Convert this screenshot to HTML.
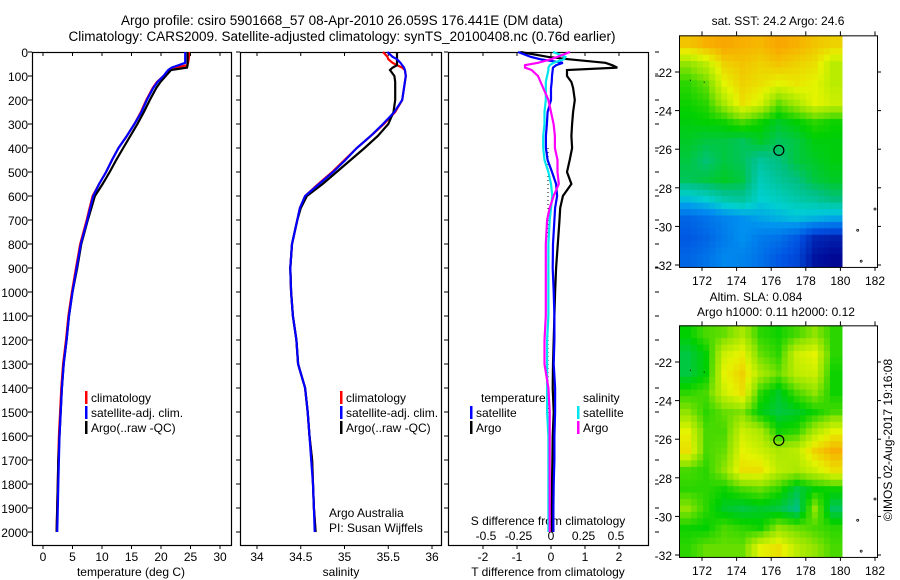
<!DOCTYPE html>
<html><head><meta charset="utf-8"><style>
html,body{margin:0;padding:0;background:#fff;}
svg{display:block;font-family:"Liberation Sans",Arial,sans-serif;}
</style></head><body>
<svg id="fig" width="900" height="580" viewBox="0 0 900 580">
<g id="titles" font-size="13.5" text-anchor="middle">
<text x="342" y="25">Argo profile: csiro 5901668_57 08-Apr-2010 26.059S 176.441E (DM data)</text>
<text x="342" y="41">Climatology: CARS2009. Satellite-adjusted climatology: synTS_20100408.nc (0.76d earlier)</text>
<text x="778" y="25" font-size="12">sat. SST: 24.2  Argo: 24.6</text>
<text x="756" y="301" font-size="12">Altim. SLA: 0.084</text>
<text x="776" y="316" font-size="12">Argo h1000: 0.11 h2000: 0.12</text>
<text transform="translate(892,440) rotate(-90)" font-size="12">©IMOS 02-Aug-2017 19:16:08</text>
</g>
<g id="plots"></g>
</svg>
<script>
// ---------- profile data ----------
const depths = [0,20,30,45,55,65,75,100,125,150,200,250,300,350,400,450,500,550,600,650,700,800,900,1000,1100,1200,1300,1400,1500,1600,1700,1800,1900,2000];
const tempClim = [24.75,24.75,24.7,24.6,24.4,22.6,21.5,20.4,19.3,18.6,17.5,16.6,15.5,14.2,12.8,11.7,10.7,9.5,8.4,7.9,7.4,6.3,5.6,4.9,4.3,3.9,3.4,3.1,2.9,2.7,2.6,2.5,2.4,2.3];
const tempSat = [24.1,24.1,24.1,24.1,23.0,21.8,21.2,20.4,19.4,18.7,17.6,16.7,15.5,14.2,12.8,11.7,10.7,9.5,8.5,8.0,7.5,6.4,5.7,5.0,4.4,4.0,3.5,3.2,3.0,2.8,2.7,2.6,2.5,2.4];
const tempArgo = [24.5,24.5,24.5,24.5,24.5,24.4,21.7,20.8,19.9,19.2,18.1,17.1,16.0,14.8,13.6,12.4,11.3,10.1,8.8,8.2,7.6,6.5,5.8,5.0,4.4,4.0,3.5,3.2,3.0,2.8,2.6,2.5,2.4,2.3];
const salClim = [35.44,35.49,35.5,35.55,35.6,35.66,35.69,35.7,35.69,35.68,35.66,35.58,35.45,35.3,35.14,35.0,34.86,34.7,34.55,34.49,34.46,34.4,34.38,34.39,34.41,34.45,34.47,34.55,34.58,34.6,34.63,34.64,34.65,34.67];
const salSat = [35.49,35.55,35.6,35.64,35.66,35.68,35.69,35.7,35.69,35.68,35.66,35.57,35.44,35.3,35.14,35.01,34.87,34.71,34.55,34.49,34.46,34.4,34.38,34.39,34.41,34.45,34.47,34.55,34.58,34.6,34.62,34.64,34.65,34.66];
const salArgo = [35.6,35.6,35.6,35.6,35.6,35.55,35.52,35.57,35.58,35.58,35.58,35.56,35.5,35.38,35.23,35.07,34.91,34.75,34.57,34.5,34.46,34.4,34.38,34.39,34.41,34.45,34.47,34.55,34.58,34.6,34.63,34.64,34.65,34.67];
const tDiffSat = [-0.97,-0.6,-0.32,0.35,0.15,0.06,0.05,0.03,0.02,0.0,0.0,-0.1,-0.12,-0.15,-0.15,-0.1,0.03,0.15,0.18,0.12,0.1,0.06,0.05,0.08,0.1,0.1,0.08,0.12,0.12,0.1,0.1,0.08,0.07,0.07];
const tDiffArgo = [-0.9,-0.1,0.5,1.6,1.8,1.95,0.47,0.47,0.6,0.65,0.7,0.65,0.62,0.6,0.62,0.55,0.47,0.6,0.35,0.27,0.25,0.2,0.15,0.12,0.1,0.08,0.06,0.05,0.08,0.05,0.04,0.03,0.02,0.02];
const sDiffSat = [0.015,0.11,0.1,0.02,-0.01,-0.02,-0.02,-0.03,-0.04,-0.04,-0.04,-0.05,-0.05,-0.06,-0.06,-0.05,-0.02,0.0,0.01,0.0,-0.01,-0.02,-0.02,-0.02,-0.02,-0.03,-0.03,-0.03,-0.03,-0.02,-0.02,-0.02,-0.02,-0.02];
const sDiffArgo = [0.146,0.05,0.0,-0.1,-0.2,-0.2,-0.15,-0.1,-0.08,-0.06,-0.02,0.0,0.02,0.03,0.03,0.05,0.05,0.06,0.02,-0.01,-0.03,-0.04,-0.04,-0.04,-0.04,-0.05,-0.05,-0.02,-0.01,-0.01,-0.01,-0.01,-0.01,-0.01];
const depthTicks = [0,100,200,300,400,500,600,700,800,900,1000,1100,1200,1300,1400,1500,1600,1700,1800,1900,2000];
const tempTicks = [0,5,10,15,20,25,30];
const salTicks = [34,34.5,35,35.5,36];
const tDiffTicks = [-2,-1,0,1,2];
const sDiffTicks = [-0.5,-0.25,0,0.25,0.5];
// ---------- map data (normalised colour index 0..1) ----------
const sstGrid = [
[0.92,0.95,0.97,0.95,0.94,0.97,0.95,0.92,0.9],
[0.75,0.8,0.9,0.92,0.9,0.92,0.9,0.88,0.8],
[0.68,0.72,0.85,0.9,0.88,0.85,0.87,0.85,0.8],
[0.66,0.68,0.78,0.88,0.83,0.72,0.78,0.85,0.82],
[0.64,0.65,0.66,0.7,0.66,0.62,0.65,0.68,0.66],
[0.62,0.6,0.6,0.58,0.62,0.58,0.6,0.64,0.64],
[0.6,0.56,0.6,0.58,0.52,0.55,0.6,0.62,0.64],
[0.58,0.6,0.62,0.6,0.48,0.52,0.55,0.6,0.62],
[0.42,0.45,0.5,0.52,0.45,0.47,0.5,0.52,0.55],
[0.25,0.28,0.32,0.35,0.38,0.4,0.42,0.4,0.38],
[0.22,0.25,0.3,0.35,0.3,0.28,0.22,0.1,0.08],
[0.25,0.28,0.33,0.32,0.28,0.22,0.18,0.05,0.02]];
const slaGrid = [
[0.65,0.7,0.72,0.78,0.68,0.66,0.7,0.75,0.68],
[0.6,0.65,0.82,0.86,0.72,0.68,0.82,0.85,0.68],
[0.6,0.65,0.85,0.9,0.78,0.72,0.8,0.82,0.66],
[0.68,0.7,0.82,0.88,0.68,0.62,0.7,0.75,0.66],
[0.75,0.68,0.72,0.74,0.64,0.6,0.62,0.66,0.7],
[0.85,0.7,0.7,0.82,0.78,0.66,0.68,0.78,0.85],
[0.88,0.7,0.72,0.85,0.82,0.78,0.8,0.9,0.95],
[0.7,0.68,0.75,0.88,0.88,0.8,0.78,0.82,0.88],
[0.68,0.68,0.66,0.7,0.72,0.68,0.6,0.65,0.66],
[0.75,0.68,0.62,0.6,0.62,0.6,0.55,0.75,0.58],
[0.66,0.65,0.7,0.68,0.66,0.75,0.72,0.7,0.68],
[0.68,0.72,0.72,0.72,0.85,0.88,0.8,0.75,0.7]];
const lonTicks = [172,174,176,178,180,182];
const latTicks = [-22,-24,-26,-28,-30,-32];
const floatLon = 176.441;
const floatLat = -26.059;

const NS = "http://www.w3.org/2000/svg";
const root = document.getElementById('plots');
function mk(tag, attrs, parent){
  const e = document.createElementNS(NS, tag);
  for (const k in attrs) e.setAttribute(k, attrs[k]);
  (parent||root).appendChild(e);
  return e;
}
const yD = d => 52 + d*0.24;
const xT = v => 43 + v*5.9;
const xS = v => 257 + (v-34)*87.5;
const xTD = v => 551 + v*34;
const xSD = v => 551 + v*130;

function frame(x0,x1,y0,y1,name){
  const r = mk('rect',{x:x0+0.5,y:y0+0.5,width:x1-x0,height:y1-y0,fill:'none',stroke:'#000','stroke-width':1.2});
  
  
}
function txt(x,y,s,anchor,size,name){
  const t = mk('text',{x:x,y:y,'text-anchor':anchor||'start','font-size':size||12});
  t.textContent = s;
  
  
  return t;
}
function line(x1,y1,x2,y2,col,w){
  return mk('line',{x1:x1,y1:y1,x2:x2,y2:y2,stroke:col||'#000','stroke-width':w||1});
}
function profile(xs, xf, col, name){
  const pts = depths.map((d,i)=> xf(xs[i]).toFixed(1)+','+yD(d).toFixed(1)).join(' ');
  const p = mk('polyline',{points:pts,fill:'none',stroke:col,'stroke-width':2.2,'stroke-linejoin':'miter'});
  
  
}
const panels = [[32,231],[240,441],[448,648]];
panels.forEach((p,i)=>{
  frame(p[0],p[1],52,545,'profile-panel-'+(i+1));
  depthTicks.forEach(d=>{ line(p[0]-4,yD(d),p[0],yD(d)); });
});
depthTicks.forEach(d=>{ txt(28,yD(d)+5,String(d),'end',12,'depth-tick-label'); });
depthTicks.forEach(d=>{ line(655,yD(d),659,yD(d)); });
tempTicks.forEach(v=>{ line(xT(v),545,xT(v),549); line(xT(v),52,xT(v),56); txt(xT(v),561,String(v),'middle',12,'temperature-tick-label'); });
salTicks.forEach(v=>{ line(xS(v),545,xS(v),549); line(xS(v),52,xS(v),56); txt(xS(v),561,String(v),'middle',12,'salinity-tick-label'); });
tDiffTicks.forEach(v=>{ line(xTD(v),545,xTD(v),549); line(xTD(v),52,xTD(v),56); txt(xTD(v),561,String(v),'middle',12,'t-diff-tick-label'); });
sDiffTicks.forEach(v=>{ txt(xSD(v),540,String(v),'middle',12,'s-diff-tick-label'); });
txt(131,576,'temperature (deg C)','middle',12,'temperature-axis-title');
txt(341,576,'salinity','middle',12,'salinity-axis-title');
txt(548,576,'T difference from climatology','middle',12,'t-diff-axis-title');
txt(548,525,'S difference from climatology','middle',12,'s-diff-axis-title');
const zl = mk('line',{x1:548,y1:yD(400),x2:548,y2:yD(2000),stroke:'#000','stroke-width':1,'stroke-dasharray':'1,3'});


profile(tempClim,xT,'#ff0000','temp-climatology-line');
profile(tempArgo,xT,'#000000','temp-argo-line');
profile(tempSat,xT,'#0000ff','temp-satellite-line');
profile(salClim,xS,'#ff0000','sal-climatology-line');
profile(salArgo,xS,'#000000','sal-argo-line');
profile(salSat,xS,'#0000ff','sal-satellite-line');
profile(tDiffArgo,xTD,'#000000','t-diff-argo-line');
profile(tDiffSat,xTD,'#0000ff','t-diff-satellite-line');
profile(sDiffSat,xSD,'#00e5ee','s-diff-satellite-line');
profile(sDiffArgo,xSD,'#ff00ff','s-diff-argo-line');
function legend(x,y,col,label,name){
  const g = mk('g',{});
  
  
  mk('rect',{x:x,y:y-11,width:2.5,height:13,fill:col},g);
  const t = mk('text',{x:x+6,y:y,'font-size':12},g);
  t.textContent = label;
}
[['#ff0000','climatology'],['#0000ff','satellite-adj. clim.'],['#000000','Argo(..raw -QC)']].forEach((e,i)=>{
  legend(85,402+i*15,e[0],e[1],'temp-legend-entry');
  legend(340,402+i*15,e[0],e[1],'sal-legend-entry');
});
txt(481,402,'temperature','start',12,'legend-temperature-header');
txt(583,402,'salinity','start',12,'legend-salinity-header');
legend(470,417,'#0000ff','satellite','legend-t-satellite');
legend(470,432,'#000000','Argo','legend-t-argo');
legend(577,417,'#00e5ee','satellite','legend-s-satellite');
legend(577,432,'#ff00ff','Argo','legend-s-argo');
txt(329,517,'Argo Australia','start',12,'argo-australia-label');
txt(329,532,'PI: Susan Wijffels','start',12,'pi-label');

// ---------- maps ----------
const stops = [[0,[0,0,140]],[0.2,[0,80,224]],[0.35,[0,144,240]],[0.45,[0,208,208]],[0.55,[0,192,128]],[0.65,[0,208,0]],[0.75,[144,228,0]],[0.85,[228,244,0]],[0.95,[248,176,0]],[1,[248,150,0]]];
function cmap(v){
  v = Math.max(0, Math.min(1, v));
  for(let i=1;i<stops.length;i++){
    if(v<=stops[i][0]){
      const a=stops[i-1],b=stops[i],t=(v-a[0])/(b[0]-a[0]);
      const c=a[1].map((q,j)=>Math.round(q+(b[1][j]-q)*t));
      return 'rgb('+c.join(',')+')';
    }
  }
  return 'rgb(248,150,0)';
}
function sample(grid, fr, fc){
  const nr = grid.length, nc = grid[0].length;
  const r = Math.max(0, Math.min(nr-1, fr)), c = Math.max(0, Math.min(nc-1, fc));
  const r0 = Math.floor(r), c0 = Math.floor(c);
  const r1 = Math.min(nr-1, r0+1), c1 = Math.min(nc-1, c0+1);
  const tr = r-r0, tc = c-c0;
  return grid[r0][c0]*(1-tr)*(1-tc) + grid[r0][c1]*(1-tr)*tc + grid[r1][c0]*tr*(1-tc) + grid[r1][c1]*tr*tc;
}
function drawMap(grid, top, name){
  const lonX = lon => 702 + (lon-172)*17.3;
  const latY = lat => (top+37) + (-22-lat)*19.3;
  const g = mk('g',{});
  
  
  const x0 = 679, x1 = 842, y0 = latY(-20.1), y1 = latY(-32.1);
  const nr = grid.length, nc = grid[0].length;
  const sub = 3;
  const cw = (x1-x0)/(nc*sub), ch = (y1-y0)/(nr*sub);
  for (let r=0; r<nr*sub; r++){
    for (let c=0; c<nc*sub; c++){
      const v = sample(grid, (r+0.5)/sub-0.5, (c+0.5)/sub-0.5);
      const cell = mk('rect',{x:(x0+c*cw).toFixed(2),y:(y0+r*ch).toFixed(2),width:(cw+0.5).toFixed(2),height:(ch+0.5).toFixed(2),fill:cmap(v)},g);
      
      
    }
  }
  const fr = mk('rect',{x:679.5,y:y0+0.5,width:198,height:y1-y0,fill:'none',stroke:'#000','stroke-width':1},g);
  
  
  lonTicks.forEach(l=>{
    line(lonX(l),y0,lonX(l),y0-4);
    line(lonX(l),y1,lonX(l),y1+4);
    txt(lonX(l),y1+18,String(l),'middle',12,'lon-tick-label');
  });
  latTicks.forEach(l=>{
    line(679,latY(l),675,latY(l));
    line(877,latY(l),881,latY(l));
    txt(672,latY(l)+5,String(l),'end',12,'lat-tick-label');
  });
  [[181.0,-30.2],[181.2,-31.8],[182.0,-29.1]].forEach(p=>{
    mk('circle',{cx:lonX(p[0]),cy:latY(p[1]),r:1,fill:'none',stroke:'#000','stroke-width':0.8},g);
  });
  [[171.3,-22.4],[172.1,-22.5]].forEach(p=>{
    mk('rect',{x:lonX(p[0]),y:latY(p[1]),width:1,height:1,fill:'#000'},g);
  });
  const m = mk('circle',{cx:lonX(floatLon),cy:latY(floatLat),r:5,fill:'none',stroke:'#000','stroke-width':1.2},g);
  
  
}
drawMap(sstGrid, 35, 'sst-map');
drawMap(slaGrid, 325, 'sla-map');
</script>
</body></html>
